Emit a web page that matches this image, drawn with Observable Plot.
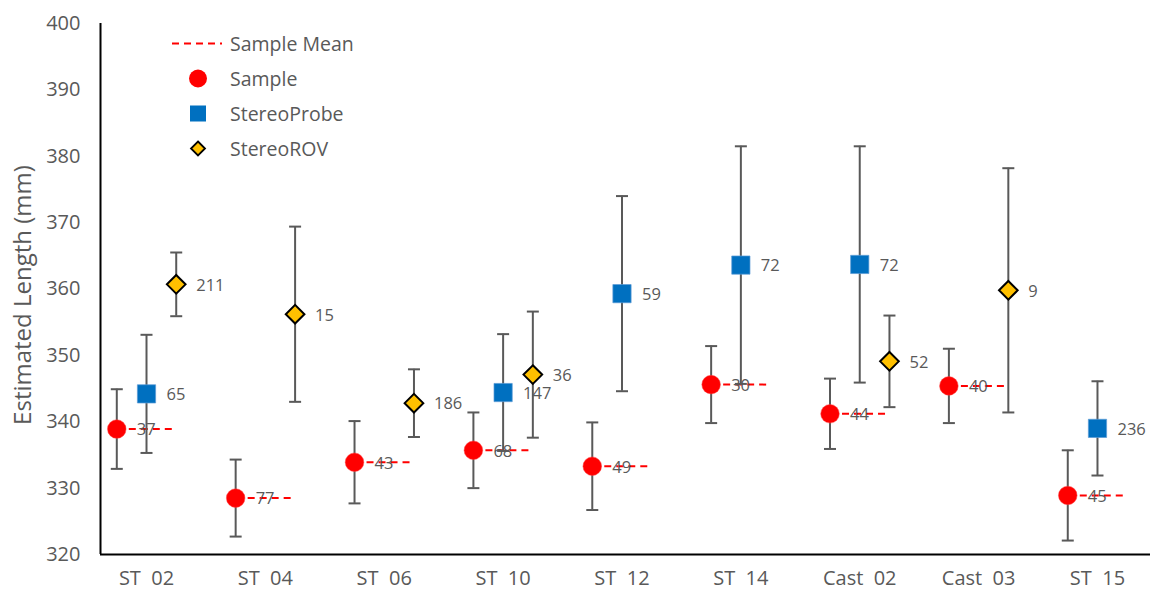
<!DOCTYPE html>
<html><head><meta charset="utf-8">
<script src="https://cdn.jsdelivr.net/npm/d3@7"></script>
<script src="https://cdn.jsdelivr.net/npm/@observablehq/plot@0.6"></script>
<style>
body{margin:0;background:#fff;font-family:"Open Sans",sans-serif;}
#wrap{position:relative;width:1153px;height:595px;}
#wrap svg text{white-space:pre;}
#legend{position:absolute;left:168px;top:26px;color:#595959;font-size:19.5px;}
.row{display:flex;align-items:center;height:35px;}
.row svg{width:56px;height:35px;margin-right:6px;}
</style></head><body>
<div id="wrap">
<div id="legend">
 <div class="row"><svg><line x1="4" x2="54" y1="17.5" y2="17.5" stroke="#FF0000" stroke-width="2" stroke-dasharray="7,5"/></svg><span>Sample Mean</span></div>
 <div class="row"><svg><circle cx="30" cy="17.5" r="9" fill="#FF0000"/></svg><span>Sample</span></div>
 <div class="row"><svg><rect x="22" y="9.5" width="16" height="16" fill="#0070C0"/></svg><span>StereoProbe</span></div>
 <div class="row"><svg><path d="M30,10.5 L37,17.5 L30,24.5 L23,17.5 Z" fill="#FFC000" stroke="#000" stroke-width="1.8"/></svg><span>StereoROV</span></div>
</div>
</div>
<script>
const stations = ["ST  02","ST  04","ST  06","ST  10","ST  12","ST  14","Cast  02","Cast  03","ST  15"];
const sampleMean = [338.9,328.5,333.9,335.7,333.3,345.6,341.2,345.4,328.9];
const sampleErr  = [6.0,5.8,6.2,5.7,6.6,5.8,5.3,5.6,6.8];
const sampleN    = [37,77,43,68,49,30,44,40,45];
const probeMean  = [344.2,null,null,344.4,359.3,363.6,363.7,null,339.0];
const probeErr   = [8.9,null,null,8.8,14.7,17.9,17.8,null,7.1];
const probeN     = [65,null,null,147,59,72,72,null,236];
const rovMean    = [360.7,356.2,342.8,347.1,null,null,349.1,359.8,null];
const rovErr     = [4.8,13.2,5.1,9.5,null,null,6.9,18.4,null];
const rovN       = [211,15,186,36,null,null,52,9,null];
const yTicks     = [320,330,340,350,360,370,380,390,400];
const yTitle     = "Estimated Length (mm)";

const OFF = 0.25; // group offset in category units
function rows(means, errs, ns, shift){
  return means.map((m,i)=> m==null?null:{x:i+shift, mean:m, lo:m-errs[i], hi:m+errs[i], n:ns[i], i})
    .filter(d=>d);
}
const sample = rows(sampleMean, sampleErr, sampleN, -OFF);
const probe  = rows(probeMean, probeErr, probeN, 0);
const rov    = rows(rovMean, rovErr, rovN, OFF);
const all = [...sample, ...probe, ...rov];

const xDomain = [-0.387, 8.446];
const yDomain = [320, 400];

const cap = {draw(ctx, size){ const w = Math.sqrt(size/Math.PI); ctx.moveTo(-w,0); ctx.lineTo(w,0); }};

const plot = Plot.plot({
  width:1153, height:595,
  marginLeft:100, marginRight:3, marginTop:23, marginBottom:41,
  style:{fontFamily:"Open Sans", color:"#595959", background:"#fff"},
  x:{type:"linear", domain:xDomain},
  y:{domain:yDomain},
  marks:[
    Plot.axisY({ticks:yTicks, tickSize:0, tickPadding:20, fontSize:20, label:null}),
    Plot.axisX({ticks:d3.range(stations.length), tickFormat:i=>stations[i], tickSize:0, tickPadding:16, fontSize:20, label:null}),
    Plot.text([yTitle], {frameAnchor:"left", rotate:-90, dx:-77, dy:6, fontSize:24, fill:"#595959", textAnchor:"middle"}),
    Plot.link(sample, {x1:d=>d.x, x2:d=>d.x+2*OFF, y1:"mean", y2:"mean", stroke:"#FF0000", strokeWidth:2, strokeDasharray:"7,5"}),
    Plot.ruleX(all, {x:"x", y1:"lo", y2:"hi", stroke:"#595959", strokeWidth:2}),
    Plot.dot(all, {x:"x", y:"lo", symbol:cap, r:6, stroke:"#595959", strokeWidth:2, fill:"none"}),
    Plot.dot(all, {x:"x", y:"hi", symbol:cap, r:6, stroke:"#595959", strokeWidth:2, fill:"none"}),
    Plot.dot(sample, {x:"x", y:"mean", r:9.3, fill:"#FF0000", stroke:"#FF4040", strokeWidth:0.5}),
    Plot.dot(probe, {x:"x", y:"mean", symbol:"square", r:10.3, fill:"#0070C0", stroke:"#5B9BD5", strokeWidth:0.7}),
    Plot.dot(rov, {x:"x", y:"mean", symbol:"diamond2", r:8.4, fill:"#FFC000", stroke:"#000", strokeWidth:2}),
    Plot.text(all, {x:"x", y:"mean", text:"n", dx:20, dy:1, textAnchor:"start", fontSize:16.5, fill:"#595959"}),
    Plot.ruleY([yDomain[0]], {stroke:"#000", strokeWidth:2}),
    Plot.ruleX([xDomain[0]], {stroke:"#000", strokeWidth:2})
  ]
});
document.getElementById("wrap").prepend(plot);
</script>
</body></html>
